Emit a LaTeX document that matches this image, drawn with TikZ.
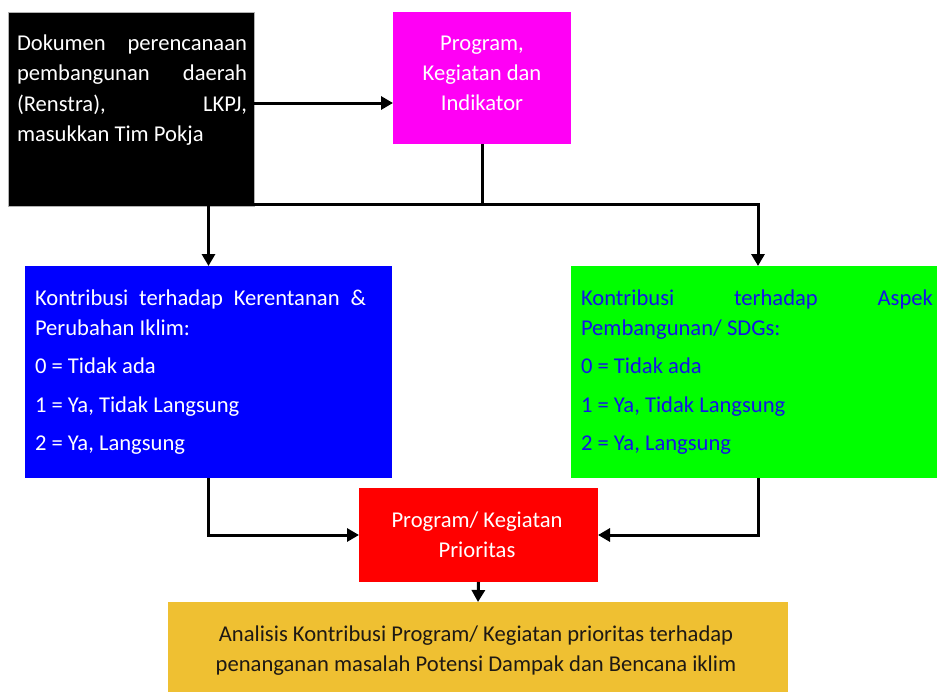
\documentclass[tikz,border=0pt]{standalone}
\usepackage{fontspec}
\setmainfont{Carlito}
\usetikzlibrary{arrows.meta}
\definecolor{docblack}{RGB}{0,0,0}
\definecolor{progpink}{RGB}{255,0,245}
\definecolor{vulnblue}{RGB}{0,0,255}
\definecolor{sdggreen}{RGB}{0,255,0}
\definecolor{sdgtext}{RGB}{20,20,230}
\definecolor{prioRed}{RGB}{255,0,0}
\definecolor{goldbox}{RGB}{239,192,50}
\definecolor{darktext}{RGB}{30,25,20}
\begin{document}
\begin{tikzpicture}[x=1pt,y=-1pt,
  box/.style={rectangle, inner sep=0pt, outer sep=0pt, anchor=north west},
  txt/.style={inner sep=0pt, outer sep=0pt, font=\fontsize{22.6}{30}\selectfont},
  lineL/.style={txt, anchor=base west},
  lineC/.style={txt, anchor=base},
  link/.style={line width=3pt, draw=black},
  arr/.style={link, -{Triangle[length=12pt,width=13pt]}}]
\useasboundingbox (0,0) rectangle (937,691);
\fill[white] (0,0) rectangle (937,691);

% boxes
\node[box, fill=docblack, draw=gray!60, line width=0.6pt,
      minimum width=246pt, minimum height=194pt] (doc) at (8,12) {};
\node[box, fill=progpink, minimum width=178pt, minimum height=132pt] (prog) at (393,12) {};
\node[box, fill=vulnblue, minimum width=367pt, minimum height=212pt] (blue) at (25,266) {};
\node[box, fill=sdggreen, minimum width=374pt, minimum height=212pt] (green) at (571,266) {};
\node[box, fill=prioRed, minimum width=239pt, minimum height=94pt] (red) at (359,488) {};
\node[box, fill=goldbox, minimum width=620pt, minimum height=95pt] (gold) at (168,602) {};

% text of the planning-document box
\node[lineL, text=white] (d1) at (17,50) {\hbox to 230pt{Dokumen\hfill perencanaan}};
\node[lineL, text=white] (d2) at (17,80.5) {\hbox to 230pt{pembangunan\hfill daerah}};
\node[lineL, text=white] (d3) at (17,111) {\hbox to 230pt{(Renstra),\hfill LKPJ,}};
\node[lineL, text=white] (d4) at (17,141.5) {masukkan Tim Pokja};

% text of the program box
\node[lineC, text=white] (p1) at (482,50) {Program,};
\node[lineC, text=white] (p2) at (482,80) {Kegiatan dan};
\node[lineC, text=white] (p3) at (482,110) {Indikator};

% text of the vulnerability box
\node[lineL, text=white] (b1) at (35,305) {\hbox to 331pt{Kontribusi\hfill terhadap\hfill Kerentanan\hfill \&}};
\node[lineL, text=white] (b2) at (35,335) {Perubahan Iklim:};
\node[lineL, text=white] (b3) at (35,373) {0 = Tidak ada};
\node[lineL, text=white] (b4) at (35,412) {1 = Ya, Tidak Langsung};
\node[lineL, text=white] (b5) at (35,450) {2 = Ya, Langsung};

% text of the SDG box
\node[lineL, text=sdgtext] (g1) at (581,305) {\hbox to 352pt{Kontribusi\hfill terhadap\hfill Aspek}};
\node[lineL, text=sdgtext] (g2) at (581,335) {Pembangunan/ SDGs:};
\node[lineL, text=sdgtext] (g3) at (581,373) {0 = Tidak ada};
\node[lineL, text=sdgtext] (g4) at (581,412) {1 = Ya, Tidak Langsung};
\node[lineL, text=sdgtext] (g5) at (581,450) {2 = Ya, Langsung};

% text of the priority box
\node[lineC, text=white] (r1) at (477,527) {Program/ Kegiatan};
\node[lineC, text=white] (r2) at (477,557) {Prioritas};

% text of the analysis box
\node[lineC, text=darktext] (a1) at (476,641) {Analisis Kontribusi Program/ Kegiatan prioritas terhadap};
\node[lineC, text=darktext] (a2) at (476,671) {penanganan masalah Potensi Dampak dan Bencana iklim};

% connectors
\coordinate (j1) at (0,103);
\coordinate (bus) at (0,204);
\draw[arr] (doc.east |- j1) -- (prog.west |- j1);
\draw[link] (prog.south) -- (prog.south |- bus);
\draw[arr] (doc.south east |- bus) -- (bus -| green.north) -- (green.north);
\draw[arr] (doc.south -| blue.north) -- (blue.north);
\draw[arr] (blue.south) |- (red.west);
\draw[arr] (green.south) |- (red.east);
\draw[arr] (red.south) -- (gold.north);
\end{tikzpicture}
\end{document}
